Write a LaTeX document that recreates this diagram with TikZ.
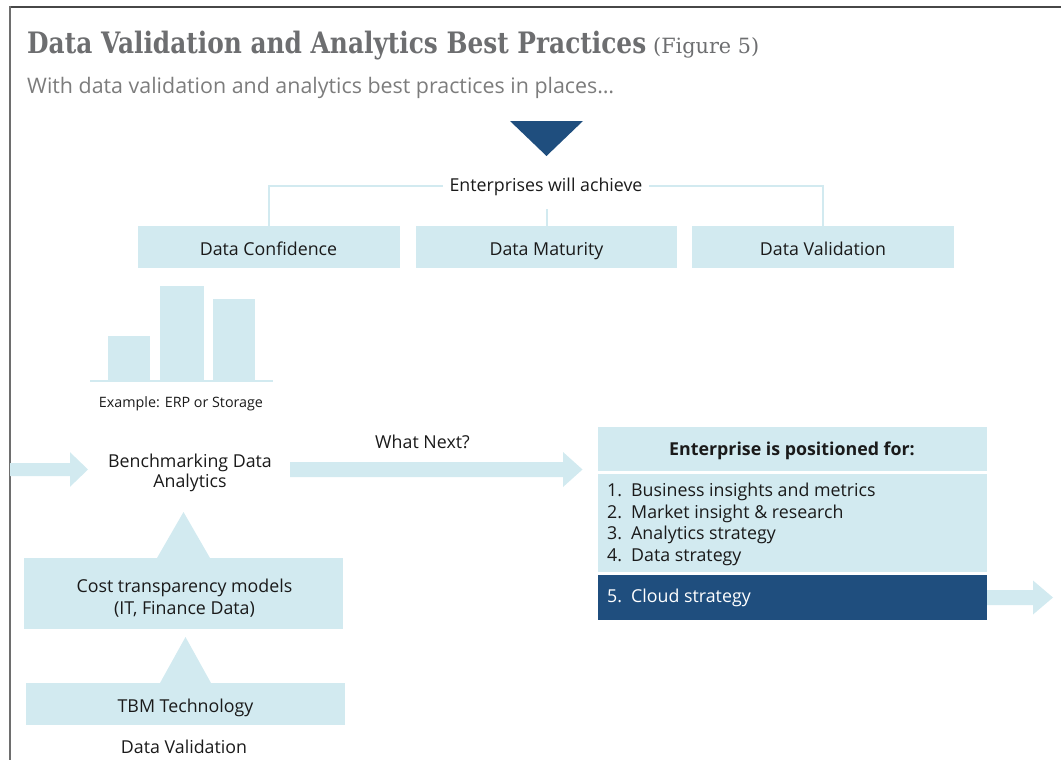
\documentclass[tikz,border=0pt]{standalone}
\usepackage{fontspec}
\usepackage{graphicx}
\setmainfont{Open Sans}
\newfontfamily\slabfont{DejaVu Serif}
\usetikzlibrary{calc}

\definecolor{pale}{HTML}{D2EAF0}
\definecolor{navy}{HTML}{1F4E7E}
\definecolor{ink}{HTML}{1A1A1A}
\definecolor{headgray}{HTML}{6D6E70}
\definecolor{subgray}{HTML}{7C7C7C}
\definecolor{framedark}{HTML}{474747}
\definecolor{frameside}{HTML}{6E6E6E}

% wide flat arrow: #1 start, #2 tip, #3 shaft half-width, #4 head half-width, #5 head length
\newcommand\fatarrow[5]{%
  \fill[pale] let \p1=(#1), \p2=(#2) in
    (\x1,\y1-#3pt) -- (\x2-#5pt,\y1-#3pt) -- (\x2-#5pt,\y1-#4pt) -- (\x2,\y1)
    -- (\x2-#5pt,\y1+#4pt) -- (\x2-#5pt,\y1+#3pt) -- (\x1,\y1+#3pt) -- cycle;}

\begin{document}
\begin{tikzpicture}[x=1pt,y=-1pt,
  box/.style={fill=pale, draw=none, inner sep=0, outer sep=0},
  darkbox/.style={fill=navy, draw=none, inner sep=0, outer sep=0},
  txt/.style={font=\fontsize{17.8}{21.7}\selectfont, text=ink, inner sep=0, anchor=base},
  link/.style={draw=pale, line width=2pt}]

\useasboundingbox (0,0) rectangle (1061,760);

% frame
\draw[framedark, line width=2pt] (9.5,7) -- (1061,7);
\draw[frameside, line width=1.5pt] (10,6) -- (10,760);

% heading
\node[anchor=base west, inner sep=0, text=headgray] (title) at (27,54)
  {\resizebox{619pt}{\height}{\fontsize{29.5}{34}\slabfont\bfseries Data Validation and Analytics Best Practices}};
\node[anchor=base west, inner sep=0, text=headgray] (fig) at (653,54)
  {\resizebox{106pt}{\height}{\fontsize{21}{25}\slabfont (Figure 5)}};
\node[anchor=base west, inner sep=0, text=subgray, font=\fontsize{21.4}{25}\selectfont] (sub) at (27,93)
  {With data validation and analytics best practices in places…};

% downward marker
\fill[navy] (510,121) -- (583,121) -- (546.5,156) -- cycle;

% outcome boxes
\node[box, minimum width=262, minimum height=42.5] (dc) at (269,246.75) {};
\node[box, minimum width=261, minimum height=42.5] (dm) at (546.5,246.75) {};
\node[box, minimum width=262, minimum height=42.5] (dv) at (823,246.75) {};
\node[txt] (dct) at (268.5,255) {Data Confidence};
\node[txt] (dmt) at (546.5,255) {Data Maturity};
\node[txt] (dvt) at (823,255) {Data Validation};

\node[txt] (ach) at (546,191) {Enterprises will achieve};
\coordinate (achL) at ([xshift=-6pt]ach.west);
\coordinate (achR) at ([xshift=6pt]ach.east);
\draw[link] (dc.north) |- (achL);
\draw[link] (dv.north) |- (achR);
\draw[link] (dm.north) -- ++(0,-17);

% bar chart
\fill[pale] (108,336) rectangle (150,381);
\fill[pale] (160,286) rectangle (204,381);
\fill[pale] (213,299) rectangle (255,381);
\draw[pale, line width=2pt] (90,381) -- (273,381);
\node[txt, font=\fontsize{14.3}{17}\selectfont] (ex) at (181,407) {Example: ERP or Storage};

% benchmarking
\node[txt] (bench1) at (190,467) {Benchmarking Data};
\node[txt] (bench2) at (190,487) {Analytics};
\coordinate (inS) at (10,469.5);
\coordinate (inT) at (88,469.5);
\fatarrow{inS}{inT}{6.5}{17.3}{18}

\node[txt] (next) at (422.5,448) {What Next?};
\coordinate (nextS) at (290,469.5);
\coordinate (nextT) at (582.5,469.5);
\fatarrow{nextS}{nextT}{7.5}{17.5}{19.5}

% cost transparency and TBM
\node[box, minimum width=319, minimum height=71] (cost) at (183.5,593.5) {};
\node[txt] (cost1) at (184.5,592) {Cost transparency models};
\node[txt] (cost2) at (184.5,614) {(IT, Finance Data)};
\fill[pale] ([xshift=-26.5pt]cost.north) -- ([yshift=46pt]cost.north) -- ([xshift=26.5pt]cost.north) -- cycle;

\node[box, minimum width=319, minimum height=42] (tbm) at (185.5,704) {};
\node[txt] (tbmt) at (185.5,712) {TBM Technology};
\fill[pale] ([xshift=-25.5pt]tbm.north) -- ([yshift=46pt]tbm.north) -- ([xshift=25.5pt]tbm.north) -- cycle;
\node[txt] (dval) at (184,753) {Data Validation};

% positioning panel
\node[box, minimum width=389, minimum height=44] (head) at (792.5,449) {};
\node[txt, font=\fontsize{17.8}{21.7}\selectfont\bfseries] (headt) at (792,455) {Enterprise is positioned for:};
\node[box, minimum width=389, minimum height=98] (list) at (792.5,523) {};
\node[darkbox, minimum width=389, minimum height=45] (cloud) at (792.5,597.5) {};

\node[txt, anchor=base west] (i1) at (607,496) {\makebox[24pt][l]{1.}Business insights and metrics};
\node[txt, anchor=base west] (i2) at (607,518) {\makebox[24pt][l]{2.}Market insight \& research};
\node[txt, anchor=base west] (i3) at (607,539.5) {\makebox[24pt][l]{3.}Analytics strategy};
\node[txt, anchor=base west] (i4) at (607,561) {\makebox[24pt][l]{4.}Data strategy};
\node[txt, anchor=base west, text=white] (i5) at (607,602) {\makebox[24pt][l]{5.}Cloud strategy};

\coordinate (outS) at (cloud.east);
\coordinate (outT) at (1053,597.5);
\fatarrow{outS}{outT}{7.5}{17}{20}

\end{tikzpicture}
\end{document}
